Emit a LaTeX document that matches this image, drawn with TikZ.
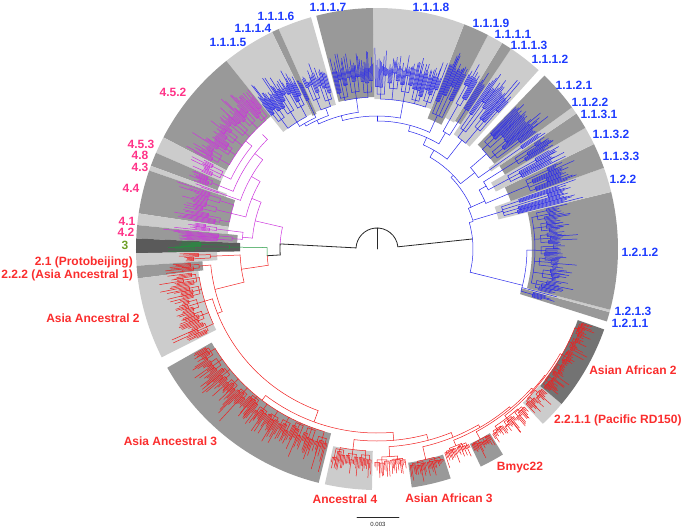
\documentclass[tikz,border=0pt]{standalone}
\usepackage{fontspec}
\setmainfont{Liberation Sans}
\definecolor{cblu}{RGB}{40,40,235}
\definecolor{cbluL}{RGB}{30,60,255}
\definecolor{cmag}{RGB}{204,51,221}
\definecolor{cmagL}{RGB}{255,51,136}
\definecolor{crd}{RGB}{240,30,30}
\definecolor{crdL}{RGB}{250,45,45}
\definecolor{cgrn}{RGB}{30,150,60}
\definecolor{cgrnL}{RGB}{110,160,40}
\definecolor{gL}{RGB}{204,204,204}
\definecolor{gD}{RGB}{153,153,153}
\definecolor{gX}{RGB}{90,90,90}
\definecolor{gM}{RGB}{115,115,115}
\definecolor{cblk}{RGB}{40,40,40}
\tikzset{
  tb/.style={draw=cblu,line width=0.5pt},
  tm/.style={draw=cmag,line width=0.5pt},
  tr/.style={draw=crd,line width=0.5pt},
  tg/.style={draw=cgrn,line width=0.5pt},
  tk/.style={draw=cblk,line width=0.8pt},
  lab/.style={font=\bfseries\fontsize{12}{14}\selectfont,inner sep=0pt},
}
\newcommand\rad[4]{\draw[#1] (#2:#3pt) -- (#2:#4pt);}
\newcommand\arcc[4]{\draw[#1] (#3:#2pt) arc[start angle=#3,end angle=#4,radius=#2pt];}
\newcommand\hlw[4]{\fill[#1] (#2:#4pt) arc[start angle=#2,end angle=#3,radius=#4pt] -- (#3:241pt) arc[start angle=#3,end angle=#2,radius=241pt] -- cycle;}
\newcommand\mkclade[6]{%
  \pgfmathsetmacro\cA{#2}%
  \pgfmathsetmacro\cB{#3}%
  \pgfmathtruncatemacro\nS{max(1,round((\cB-\cA)/4))}%
  \pgfmathsetmacro\wS{(\cB-\cA)/\nS}%
  \ifnum\nS>1
    \pgfmathsetmacro\bA{\cA+\wS/2}\pgfmathsetmacro\bB{\cB-\wS/2}%
    \draw[#1] (\bA:#4pt) arc[start angle=\bA,end angle=\bB,radius=#4pt];%
  \fi
  \foreach \k in {1,...,\nS}{%
    \pgfmathsetmacro\sA{\cA+(\k-1)*\wS+0.15}%
    \pgfmathsetmacro\sB{\cA+\k*\wS-0.15}%
    \pgfmathsetmacro\sM{(\sA+\sB)/2}%
    \pgfmathsetmacro\rS{#4+(0.1+0.35*rnd)*(#5-#4)}%
    \draw[#1] (\sM:#4pt) -- (\sM:\rS pt);%
    \pgfmathtruncatemacro\nT{max(1,round((\sB-\sA)/1.3))}%
    \pgfmathsetmacro\wT{(\sB-\sA)/\nT}%
    \ifnum\nT>1
      \pgfmathsetmacro\bA{\sA+\wT/2}\pgfmathsetmacro\bB{\sB-\wT/2}%
      \draw[#1] (\bA:\rS pt) arc[start angle=\bA,end angle=\bB,radius=\rS pt];%
    \fi
    \foreach \m in {1,...,\nT}{%
      \pgfmathsetmacro\tA{\sA+(\m-1)*\wT+0.06}%
      \pgfmathsetmacro\tB{\sA+\m*\wT-0.06}%
      \pgfmathsetmacro\tM{(\tA+\tB)/2}%
      \pgfmathsetmacro\rT{\rS+(0.15+0.7*rnd)*(#5-\rS)}%
      \draw[#1] (\tM:\rS pt) -- (\tM:\rT pt) (\tA:\rT pt) arc[start angle=\tA,end angle=\tB,radius=\rT pt];%
      \pgfmathtruncatemacro\nU{max(1,round((\tB-\tA)/0.32))}%
      \foreach \u in {0,...,\nU}{%
        \pgfmathsetmacro\uA{\tA+\u*(\tB-\tA)/\nU}%
        \pgfmathsetmacro\rU{#5+rnd*rnd*(#6-#5)*1.1}%
        \draw[#1] (\uA:\rT pt) -- (\uA:\rU pt);%
      }%
    }%
  }%
}
\begin{document}
\begin{tikzpicture}[x=1pt,y=1pt,line cap=round,line join=round]
\useasboundingbox (-377,-279) rectangle (308,249);
\pgfmathsetseed{7}
% ---------- highlight wedges ----------
\hlw{gD}{-17.5}{-15.2}{150}
\hlw{gL}{-15.2}{-14.6}{157}
\hlw{gD}{-14.6}{13.7}{155}
\hlw{gL}{13.7}{19.7}{125}
\hlw{gD}{19.7}{25.8}{142}
\hlw{gL}{25.8}{30.2}{132}
\hlw{gD}{30.2}{34.2}{148}
\hlw{gL}{34.2}{36}{138}
\hlw{gD}{36}{46}{145}
\hlw{gL}{47.9}{56.2}{138}
\hlw{gD}{56.2}{58.7}{150}
\hlw{gL}{58.7}{62.6}{148}
\hlw{gD}{62.6}{68.8}{140}
\hlw{gL}{68.8}{91}{150}
\hlw{gD}{91}{104.6}{152}
\hlw{gL}{105.9}{114.1}{150}
\hlw{gD}{114.1}{115.8}{148}
\hlw{gL}{115.8}{128.7}{150}
\hlw{gD}{128.7}{152.4}{170}
\hlw{gL}{152.4}{156.5}{170}
\hlw{gD}{156.5}{159.8}{170}
\hlw{gL}{159.8}{161}{160}
\hlw{gD}{161}{171.5}{150}
\hlw{gL}{171.5}{174.3}{150}
\hlw{gD}{174.3}{177.5}{140}
\hlw{gX}{177.5}{181}{137}
\hlw{gL}{181}{184}{160}
\hlw{gD}{184}{187}{175}
\hlw{gL}{187}{206.7}{180}
\hlw{gD}{209.5}{256}{190}
\hlw{gL}{257.5}{268.8}{202}
\hlw{gD}{278.3}{287.8}{216}
\hlw{gD}{295.5}{301.5}{216}
\hlw{gL}{313.5}{320}{212}
\hlw{gM}{320}{340.5}{213}
% ---------- root ----------
\rad{tk}{90}{0}{21}
\arcc{tk}{21}{6}{177}
\rad{tk}{6}{21}{96}
\rad{tk}{177}{21}{97}
\arcc{tk}{97}{177}{183.5}
\arcc{tm}{97}{177}{167}
\rad{tk}{183.5}{97}{110}
\arcc{tg}{110}{183.5}{179.25}
\arcc{tr}{110}{183.5}{188.5}
% ---------- lineage 1 (blue) ----------
\arcc{tb}{96}{-14}{16}
\rad{tb}{-14}{96}{150}
\arcc{tb}{150}{-16.3}{-0.45}
\rad{tb}{-16.3}{150}{153}
\mkclade{tb}{-17.3}{-15.3}{153}{170}{192}
\rad{tb}{-14.9}{150}{186}
\rad{tb}{-0.45}{150}{158}
\mkclade{tb}{-14.4}{13.5}{158}{180}{205}
\rad{tb}{16}{96}{100}
\arcc{tb}{100}{16.7}{24}
\rad{tb}{16.7}{100}{125}
\mkclade{tb}{13.9}{19.5}{125}{190}{215}
\rad{tb}{24}{100}{103}
\arcc{tb}{103}{24}{44}
\rad{tb}{24}{103}{118}
\arcc{tb}{118}{22.75}{30}
\rad{tb}{22.75}{118}{142}
\mkclade{tb}{19.9}{25.6}{142}{195}{220}
\rad{tb}{30}{118}{126}
\arcc{tb}{126}{28}{32.2}
\rad{tb}{28}{126}{132}
\mkclade{tb}{26}{30}{132}{195}{215}
\rad{tb}{32.2}{126}{148}
\mkclade{tb}{30.4}{34}{148}{195}{215}
\rad{tb}{44}{103}{106}
\arcc{tb}{106}{38}{60}
\rad{tb}{38}{106}{124}
\arcc{tb}{124}{35.1}{41}
\rad{tb}{35.1}{124}{138}
\mkclade{tb}{34.4}{35.8}{138}{190}{210}
\rad{tb}{41}{124}{145}
\mkclade{tb}{36.2}{45.8}{145}{195}{220}
\rad{tb}{60}{106}{114}
\arcc{tb}{114}{52.05}{66}
\rad{tb}{52.05}{114}{138}
\mkclade{tb}{48.1}{56}{138}{195}{220}
\rad{tb}{66}{114}{122}
\arcc{tb}{122}{59.5}{75}
\rad{tb}{59.5}{122}{135}
\arcc{tb}{135}{57.45}{60.65}
\rad{tb}{57.45}{135}{150}
\mkclade{tb}{56.4}{58.5}{150}{195}{215}
\rad{tb}{60.65}{135}{148}
\mkclade{tb}{58.9}{62.4}{148}{195}{215}
\rad{tb}{75}{122}{128}
\arcc{tb}{128}{65.7}{90}
\rad{tb}{65.7}{128}{140}
\mkclade{tb}{62.8}{68.6}{140}{195}{222}
\rad{tb}{90}{128}{133}
\arcc{tb}{133}{79.9}{105}
\rad{tb}{79.9}{133}{150}
\mkclade{tb}{69}{90.8}{150}{180}{200}
\rad{tb}{105}{133}{138}
\arcc{tb}{138}{97.8}{115}
\rad{tb}{97.8}{138}{152}
\mkclade{tb}{91.2}{104.4}{152}{180}{205}
\rad{tb}{115}{138}{142}
\arcc{tb}{142}{110}{120}
\rad{tb}{110}{142}{150}
\mkclade{tb}{106.1}{113.9}{150}{180}{200}
\rad{tb}{120}{142}{145}
\arcc{tb}{145}{114.95}{122.25}
\rad{tb}{114.95}{145}{148}
\mkclade{tb}{114.3}{115.6}{148}{180}{200}
\rad{tb}{122.25}{145}{150}
\mkclade{tb}{116}{128.5}{150}{185}{210}
% ---------- lineage 4 (magenta) ----------
\rad{tm}{167}{97}{125}
\arcc{tm}{125}{158}{175}
\rad{tm}{175}{125}{135}
\arcc{tm}{135}{172.9}{175.9}
\rad{tm}{172.9}{135}{150}
\mkclade{tm}{171.7}{174.1}{150}{180}{205}
\rad{tm}{175.9}{135}{140}
\mkclade{tm}{174.5}{177.3}{140}{190}{220}
\rad{tm}{158}{125}{135}
\arcc{tm}{135}{150}{166.25}
\rad{tm}{166.25}{135}{150}
\mkclade{tm}{161.2}{171.3}{150}{185}{210}
\rad{tm}{150}{135}{145}
\arcc{tm}{145}{142}{160.4}
\rad{tm}{160.4}{145}{160}
\mkclade{tm}{160}{160.8}{160}{185}{205}
\rad{tm}{142}{145}{155}
\arcc{tm}{155}{135}{158.15}
\rad{tm}{158.15}{155}{170}
\mkclade{tm}{156.7}{159.6}{170}{190}{210}
\rad{tm}{135}{155}{162}
\arcc{tm}{162}{140.55}{154.45}
\rad{tm}{154.45}{162}{170}
\mkclade{tm}{152.6}{156.3}{170}{190}{210}
\rad{tm}{140.55}{162}{170}
\mkclade{tm}{128.9}{152.2}{170}{195}{218}
% ---------- lineage 3 (green) ----------
\rad{tg}{179.25}{110}{137}
\mkclade{tg}{177.7}{180.8}{137}{190}{225}
% ---------- lineage 2 (red) ----------
\rad{tr}{188.5}{110}{137}
\arcc{tr}{137}{182.5}{194}
\rad{tr}{182.5}{137}{160}
\mkclade{tr}{181.2}{183.8}{160}{190}{215}
\rad{tr}{194}{137}{167}
\arcc{tr}{167}{185.5}{202}
\rad{tr}{185.5}{167}{175}
\mkclade{tr}{184.2}{186.8}{175}{195}{215}
\rad{tr}{202}{167}{172}
\arcc{tr}{172}{196.85}{250}
\rad{tr}{196.85}{172}{180}
\mkclade{tr}{187.2}{206.5}{180}{200}{225}
\rad{tr}{250}{172}{184}
\arcc{tr}{184}{232.75}{275}
\rad{tr}{232.75}{184}{190}
\mkclade{tr}{209.7}{255.8}{190}{205}{232}
\rad{tr}{275}{184}{192}
\arcc{tr}{192}{263.15}{285}
\rad{tr}{263.15}{192}{202}
\mkclade{tr}{257.7}{268.6}{202}{215}{230}
\rad{tr}{285}{192}{198}
\arcc{tr}{198}{273.5}{292}
\rad{tr}{273.5}{198}{208}
\mkclade{tr}{269.2}{277.8}{208}{215}{232}
\rad{tr}{292}{198}{203}
\arcc{tr}{203}{283.05}{300}
\rad{tr}{283.05}{203}{216}
\mkclade{tr}{278.5}{287.6}{216}{222}{238}
\rad{tr}{300}{203}{206}
\arcc{tr}{206}{291.85}{310}
\rad{tr}{291.85}{206}{212}
\mkclade{tr}{288.2}{295.3}{212}{218}{232}
\rad{tr}{310}{206}{208}
\arcc{tr}{208}{298.5}{318}
\rad{tr}{298.5}{208}{216}
\mkclade{tr}{295.7}{301.3}{216}{222}{236}
\rad{tr}{318}{208}{210}
\arcc{tr}{210}{307.5}{323}
\rad{tr}{307.5}{210}{213}
\mkclade{tr}{301.8}{313.2}{213}{220}{234}
\rad{tr}{323}{210}{211}
\arcc{tr}{211}{316.75}{330.25}
\rad{tr}{316.75}{211}{212}
\mkclade{tr}{313.7}{319.8}{212}{220}{234}
\rad{tr}{330.25}{211}{213}
\mkclade{tr}{320.2}{340.3}{213}{220}{236}
% ---------- labels ----------
\node[lab,text=cbluL] (l1117) at (-49,242) {1.1.1.7};
\node[lab,text=cbluL] (l1118) at (54,242) {1.1.1.8};
\node[lab,text=cbluL] (l1116) at (-101,233) {1.1.1.6};
\node[lab,text=cbluL] (l1114) at (-124,221) {1.1.1.4};
\node[lab,text=cbluL] (l1115) at (-149,207) {1.1.1.5};
\node[lab,text=cbluL] (l1119) at (114,226) {1.1.1.9};
\node[lab,text=cbluL] (l1111) at (136,215) {1.1.1.1};
\node[lab,text=cbluL] (l1113) at (152,204) {1.1.1.3};
\node[lab,text=cbluL] (l1112) at (173,190) {1.1.1.2};
\node[lab,text=cbluL] (l1121) at (197,164) {1.1.2.1};
\node[lab,text=cbluL] (l1122) at (213,147) {1.1.2.2};
\node[lab,text=cbluL] (l1131) at (222,135) {1.1.3.1};
\node[lab,text=cbluL] (l1132) at (234,115) {1.1.3.2};
\node[lab,text=cbluL] (l1133) at (244,93) {1.1.3.3};
\node[lab,text=cbluL] (l122) at (246,70) {1.2.2};
\node[lab,text=cbluL] (l1212) at (263,-3) {1.2.1.2};
\node[lab,text=cbluL] (l1213) at (256,-62) {1.2.1.3};
\node[lab,text=cbluL] (l1211) at (253,-74) {1.2.1.1};
\node[lab,text=crdL] (laaf2) at (256,-121) {Asian African 2};
\node[lab,text=crdL,anchor=west] (l2211) at (177,-171) {2.2.1.1 (Pacific RD150)};
\node[lab,text=crdL] (lbmyc) at (143,-219) {Bmyc22};
\node[lab,text=crdL] (laaf3) at (72,-249) {Asian African 3};
\node[lab,text=crdL] (la4) at (-32,-250) {Ancestral 4};
\node[lab,text=crdL] (laa3) at (-206.5,-192) {Asia Ancestral 3};
\node[lab,text=crdL] (laa2) at (-284,-69) {Asia Ancestral 2};
\node[lab,text=crdL,anchor=east] (l222) at (-244,-26) {2.2.2 (Asia Ancestral 1)};
\node[lab,text=crdL,anchor=east] (l21) at (-244,-13) {2.1 (Protobeijing)};
\node[lab,text=cgrnL] (l3) at (-252,4) {3};
\node[lab,text=cmagL] (l42) at (-251,17) {4.2};
\node[lab,text=cmagL] (l41) at (-250,28) {4.1};
\node[lab,text=cmagL] (l44) at (-246,61) {4.4};
\node[lab,text=cmagL] (l43) at (-237,82) {4.3};
\node[lab,text=cmagL] (l48) at (-237,94) {4.8};
\node[lab,text=cmagL] (l453) at (-236,105) {4.5.3};
\node[lab,text=cmagL] (l452) at (-204,157) {4.5.2};
% ---------- scale bar ----------
\coordinate (sbA) at (-20,-268);
\coordinate (sbB) at (22,-268);
\draw[cblk,line width=0.6pt] (sbA) -- (sbB);
\node[font=\fontsize{6}{7}\selectfont,inner sep=0pt,text=cblk] (sbl) at (1,-275) {0.003};
\end{tikzpicture}
\end{document}
